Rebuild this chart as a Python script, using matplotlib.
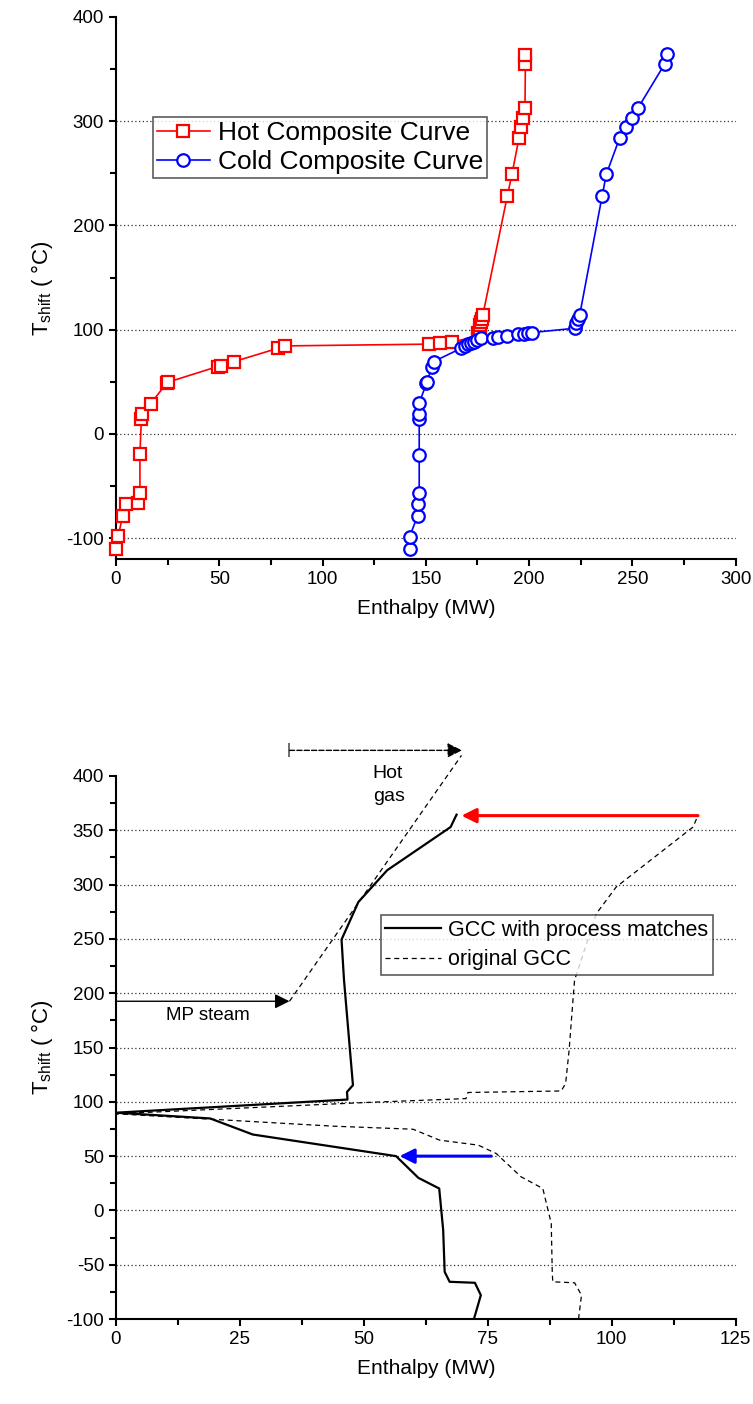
import numpy as np
import matplotlib
matplotlib.use('Agg')
import matplotlib.pyplot as plt
from matplotlib.ticker import MultipleLocator

plt.rcParams['font.family'] = ['Liberation Sans', 'DejaVu Sans']
plt.rcParams['mathtext.fontset'] = 'custom'
plt.rcParams['mathtext.rm'] = 'Liberation Sans'
plt.rcParams['mathtext.it'] = 'Liberation Sans:italic'
plt.rcParams['axes.unicode_minus'] = False

# composite curves (MW, degC)
hot_h = [0, 1.1, 3.2, 4.7, 10.5, 11.6, 11.6, 12.3, 12.7, 16.8, 24.5, 25, 49.2, 51,
         57.3, 78.5, 81.8, 151.6, 157.1, 162.7, 175.1, 175.5, 176, 176.4, 176.8,
         177.2, 177.6, 189.5, 191.7, 195.1, 196.3, 197, 198, 198.2, 198.2]
hot_t = [-110, -98, -79, -67, -66, -57, -19.5, 14.4, 19.2, 29, 48.6, 49.5, 64.6, 65.3,
         69.4, 82.2, 84.4, 86.1, 87, 88, 94, 97, 100, 104, 107,
         110, 114, 228.7, 249.2, 283.8, 294, 303, 312.6, 354.8, 363.7]

cold_h = [142.2, 142.2, 146, 146.3, 146.8, 146.8, 146.8, 146.8, 146.8, 150.3, 150.5,
          153, 153.8, 167.2, 169, 170.5, 172, 173.5, 175, 176.9, 182.5, 185, 189.5,
          194.6, 197.4, 199.5, 201.4, 222.4, 222.9, 223.7, 224.5, 235.4, 237.4,
          243.8, 247.1, 249.8, 252.7, 265.6, 266.7]
cold_t = [-110, -98.5, -78.7, -67.2, -57, -19.8, 14.4, 19.2, 29.4, 48.6, 49.5,
          64.6, 69.4, 82.2, 84.4, 86, 87, 88.5, 90, 91.8, 92.4, 93.4, 94.3,
          95.7, 96.3, 96.6, 97.2, 101.4, 106, 110, 114.2, 228.7, 249.2,
          283.8, 294, 303, 312.6, 354.8, 364.7]

# grand composite curves
gcc_h = [72.2, 73.6, 72.4, 67.3, 66.3, 66, 65.2, 61, 56.5, 27.6, 19, 0, 46.7,
         46.6, 47.8, 47.2, 46, 45.5, 48.9, 54.7, 67.5, 68.7]
gcc_t = [-100, -78, -66.6, -65.7, -56.5, -18, 20.2, 30, 50, 69.9, 84.7, 90, 102.1,
         109.1, 115.3, 147.5, 212, 249.4, 284, 313.2, 353, 364.4]

orig_h = [93.3, 93.9, 92.5, 88.1, 88, 87.8, 86.1, 81.7, 76.7, 73.1, 65.3, 59.9,
          43.8, 0, 50.5, 70.6, 71, 89.8, 90.7, 91.4, 92.2, 92.5, 96.9, 100.9,
          116.4, 117.4]
orig_t = [-100, -78, -66.6, -65.7, -56.5, -12, 20.2, 31, 52.4, 60.1, 64.7, 74.8,
          77.6, 89, 99.4, 103, 108.6, 110, 116.9, 147.5, 195, 212, 273.3, 297.8,
          353, 363.8]

hotgas_h = [35, 69.7]
hotgas_t = [192.6, 419]


def style_axis(ax, top):
    for s in ['top', 'right']:
        ax.spines[s].set_visible(False)
    for s in ['left', 'bottom']:
        ax.spines[s].set_linewidth(1.5)
    ax.tick_params(which='major', direction='out', length=5, width=1.5,
                   labelsize=13.5)
    ax.tick_params(which='minor', direction='out', length=4, width=1.5)
    for y in ax.get_yticks():
        if y < top and y > ax.get_ylim()[0]:
            ax.axhline(y, ls=(0, (1, 2)), color='#333333', lw=0.9, zorder=0)
    ax.set_ylabel(r'T$_{\rm shift}$ ( °C)', fontsize=16, labelpad=8)
    ax.set_xlabel('Enthalpy (MW)', fontsize=15, labelpad=8)


fig = plt.figure(figsize=(7.53, 14.04), dpi=100)
ax1 = fig.add_axes([0.154, 0.6019, 0.823, 0.386])
ax2 = fig.add_axes([0.154, 0.0605, 0.823, 0.3868])

# top: composite curves
ax1.plot(hot_h, hot_t, 'r-', lw=1.2, marker='s', ms=8, mfc='white', mec='red',
         mew=1.6, label='Hot Composite Curve', clip_on=False, zorder=3)
ax1.plot(cold_h, cold_t, 'b-', lw=1.2, marker='o', ms=9, mfc='white', mec='blue',
         mew=1.6, label='Cold Composite Curve', clip_on=False, zorder=3)
ax1.set_xlim(0, 300)
ax1.set_ylim(-120, 400)
ax1.xaxis.set_major_locator(MultipleLocator(50))
ax1.xaxis.set_minor_locator(MultipleLocator(25))
ax1.yaxis.set_major_locator(MultipleLocator(100))
ax1.yaxis.set_minor_locator(MultipleLocator(50))
style_axis(ax1, 400)
leg = ax1.legend(loc='upper left', bbox_to_anchor=(0.06, 0.815), fontsize=19,
                 frameon=True, fancybox=False, edgecolor='#333333',
                 borderpad=0.15, labelspacing=0.18, handlelength=2.0,
                 handletextpad=0.3, borderaxespad=0)
leg.get_frame().set_linewidth(1.2)

# bottom: grand composite curves
ax2.plot(gcc_h, gcc_t, 'k-', lw=1.6, label='GCC with process matches')
ax2.plot(orig_h, orig_t, 'k--', lw=0.9, dashes=(4, 3), label='original GCC')
ax2.plot(hotgas_h, hotgas_t, 'k--', lw=0.9, dashes=(4, 3), clip_on=False)
ax2.set_xlim(0, 125)
ax2.set_ylim(-100, 400)
ax2.xaxis.set_major_locator(MultipleLocator(25))
ax2.xaxis.set_minor_locator(MultipleLocator(12.5))
ax2.yaxis.set_major_locator(MultipleLocator(50))
ax2.yaxis.set_minor_locator(MultipleLocator(25))
style_axis(ax2, 400)

# utility arrows
ax2.annotate('', xy=(69.8, 423.6), xytext=(35, 423.6), annotation_clip=False,
             arrowprops=dict(arrowstyle='-|>', ls='--', lw=1.0, color='k',
                             mutation_scale=22, shrinkA=0, shrinkB=0))
ax2.plot([35], [423.6], marker='|', ms=10, mew=1.2, color='#555555',
         clip_on=False)
ax2.text(51.8, 392, 'Hot\ngas', fontsize=14, ha='left', va='center',
         linespacing=1.45)
ax2.annotate('', xy=(35, 192.6), xytext=(0, 192.6), annotation_clip=False,
             arrowprops=dict(arrowstyle='-|>', lw=1.0, color='k',
                             mutation_scale=22, shrinkA=0, shrinkB=0))
ax2.text(10, 187, 'MP steam', fontsize=13.5, ha='left', va='top')
ax2.annotate('', xy=(69.7, 363.5), xytext=(117.4, 363.5),
             arrowprops=dict(arrowstyle='-|>', lw=2.2, color='red',
                             mutation_scale=22, shrinkA=0, shrinkB=0))
ax2.annotate('', xy=(57.2, 50), xytext=(75.7, 50),
             arrowprops=dict(arrowstyle='-|>', lw=2.2, color='blue',
                             mutation_scale=22, shrinkA=0, shrinkB=0))

leg2 = ax2.legend(loc='upper left', bbox_to_anchor=(0.427, 0.744), fontsize=15.5,
                  frameon=True, fancybox=False, edgecolor='#333333',
                  borderpad=0.22, labelspacing=0.4, handlelength=2.6,
                  handletextpad=0.3, borderaxespad=0)
leg2.get_frame().set_linewidth(1.2)

fig.savefig('out.png', dpi=100)
